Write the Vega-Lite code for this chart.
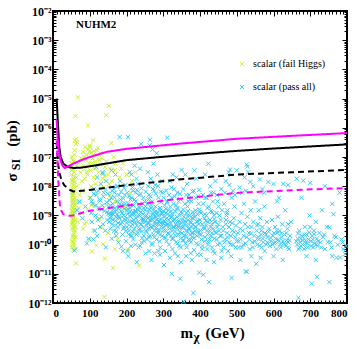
{
"$schema": "https://vega.github.io/schema/vega-lite/v6.json",
"width": 294, "height": 292,
"autosize": "none",
"padding": {"left": 53, "top": 11, "right": 10, "bottom": 46},
"background": "white",
"config": {
 "view": {"stroke": "black", "strokeWidth": 2},
 "font": "Liberation Serif",
 "axis": {"grid": false, "domain": false, "tickColor": "black", "tickWidth": 1, "labelFont": "Liberation Serif", "labelFontWeight": "bold", "labelColor": "black", "labelFontSize": 11, "titleFont": "Liberation Serif", "titleFontWeight": "bold", "titleColor": "black", "titleFontSize": 15},
 "legend": {"labelFont": "Liberation Serif", "labelFontSize": 10, "labelColor": "black"}
},
"title": {"text": "NUHM2", "anchor": "start", "frame": "group", "orient": "top", "offset": -25, "dx": 23, "font": "Liberation Serif", "fontSize": 11, "fontWeight": "bold", "color": "black"},
"datasets": {
 "fail": [
{"m":50,"s":6e-8},{"m":50,"s":2.5e-8},{"m":51,"s":1.2e-8},{"m":51,"s":6e-9},{"m":52,"s":3.5e-9},{"m":52,"s":2e-9},{"m":52,"s":1.1e-9},{"m":53,"s":6e-10},{"m":53,"s":3.5e-10},{"m":53,"s":2e-10},{"m":54,"s":1.2e-10},
{"m":54,"s":8e-8},{"m":54,"s":4e-8},{"m":55,"s":1.8e-8},{"m":55,"s":9e-9},{"m":55,"s":5e-9},{"m":56,"s":2.8e-9},{"m":56,"s":1.6e-9},{"m":56,"s":8e-10},{"m":57,"s":4.5e-10},{"m":57,"s":2.6e-10},{"m":57,"s":1.5e-10},{"m":58,"s":9e-11},
{"m":58,"s":1.2e-7},{"m":58,"s":3e-8},{"m":59,"s":1.4e-8},{"m":59,"s":7e-9},{"m":59,"s":4e-9},{"m":60,"s":2.2e-9},{"m":60,"s":1.3e-9},{"m":60,"s":7e-10},{"m":61,"s":4e-10},{"m":61,"s":3e-10},{"m":62,"s":1.8e-10},{"m":62,"s":7e-11},{"m":63,"s":2.3e-11},
{"m":64,"s":5e-8},{"m":64,"s":2e-8},{"m":65,"s":1e-8},{"m":66,"s":3e-9},{"m":66,"s":1.5e-9},{"m":67,"s":6e-10},
{"m":52,"s":4.5e-8},{"m":53,"s":1.6e-8},{"m":53,"s":8e-9},{"m":54,"s":4.5e-9},{"m":54,"s":2.5e-9},{"m":55,"s":1.4e-9},{"m":55,"s":1e-9},{"m":55,"s":5.5e-10},{"m":56,"s":3.2e-10},{"m":56,"s":1.8e-10},{"m":53,"s":1e-10},{"m":52,"s":8e-11},{"m":55,"s":6.5e-11},
{"m":51,"s":3.5e-8},{"m":52,"s":1.5e-8},{"m":53,"s":5e-9},{"m":54,"s":3e-9},{"m":54,"s":1.8e-9},{"m":55,"s":7.5e-10},{"m":56,"s":4e-10},{"m":57,"s":2.2e-10},{"m":51,"s":1e-9},{"m":52,"s":5e-10},{"m":53,"s":2.5e-9},{"m":55,"s":3.5e-9},{"m":56,"s":1.1e-8},{"m":57,"s":2.2e-8},{"m":52,"s":1.35e-10},{"m":57,"s":1.1e-10},{"m":51,"s":1.4e-9},{"m":56,"s":6e-9},{"m":53,"s":1.2e-9},{"m":54,"s":7e-10},{"m":51,"s":1e-7},{"m":56,"s":7e-8},{"m":59,"s":1.7e-7},
{"m":68,"s":1.1e-5},{"m":152,"s":5.6e-6},{"m":61,"s":2.5e-6},{"m":145,"s":2.7e-6},{"m":95,"s":1.2e-6},{"m":59,"s":3.7e-7},{"m":63,"s":4.2e-7},{"m":66,"s":3.2e-7},{"m":109,"s":3.7e-7},{"m":159,"s":3e-7},{"m":62,"s":2.8e-7},
{"m":82,"s":1.5e-7},{"m":88,"s":2.2e-7},{"m":92,"s":1.2e-7},{"m":96,"s":1.8e-7},{"m":100,"s":2.5e-7},{"m":104,"s":1.4e-7},{"m":108,"s":9e-8},{"m":112,"s":1.6e-7},{"m":118,"s":1.1e-7},{"m":122,"s":2e-7},{"m":126,"s":8e-8},{"m":90,"s":8e-8},{"m":98,"s":6e-8},{"m":85,"s":1e-7},{"m":130,"s":1.3e-7},{"m":115,"s":7e-8},
{"m":70,"s":6e-8},{"m":76,"s":9e-8},{"m":84,"s":5e-8},{"m":92,"s":3e-8},{"m":99,"s":1.5e-7},{"m":105,"s":6e-8},{"m":114,"s":4e-8},{"m":120,"s":1.7e-7},{"m":128,"s":5.5e-8},{"m":134,"s":9e-8},{"m":140,"s":2.2e-8},{"m":146,"s":7e-8},{"m":155,"s":4e-8},{"m":170,"s":6e-8},{"m":186,"s":4e-8},{"m":200,"s":2.5e-8},{"m":215,"s":1.5e-8},{"m":225,"s":3e-8},{"m":86,"s":1.8e-8},{"m":104,"s":1e-8},{"m":120,"s":6e-9},{"m":138,"s":9e-9},{"m":152,"s":1.2e-8},{"m":100,"s":2.2e-7},{"m":110,"s":1.2e-7},
{"m":88,"s":4e-8},{"m":94,"s":2.5e-8},{"m":102,"s":3.5e-8},{"m":110,"s":2e-8},{"m":116,"s":1.2e-8},{"m":124,"s":3e-8},{"m":135,"s":1.8e-8},{"m":142,"s":4.5e-8},{"m":150,"s":2.5e-8},{"m":160,"s":1.5e-8},{"m":168,"s":3.5e-8},{"m":175,"s":1e-8},{"m":182,"s":2e-8},{"m":190,"s":6e-8},{"m":165,"s":1e-7},{"m":75,"s":3e-8},{"m":78,"s":1.5e-8},{"m":80,"s":7e-9},{"m":72,"s":5e-9},
{"m":73,"s":2.8e-9},{"m":82,"s":3.5e-10},{"m":86,"s":5e-10},{"m":91,"s":6e-10},{"m":95,"s":1.5e-9},{"m":100,"s":4e-9},{"m":106,"s":2.2e-9},{"m":113,"s":2.1e-9},{"m":120,"s":9e-10},{"m":127,"s":7.5e-10},{"m":136,"s":1.05e-10},{"m":118,"s":9.5e-11},{"m":106,"s":5.8e-11},{"m":145,"s":2.2e-9},{"m":155,"s":5e-9},{"m":160,"s":1.2e-9},{"m":170,"s":3e-9},{"m":180,"s":8e-10},{"m":195,"s":2e-9},{"m":210,"s":6e-9},{"m":168,"s":7e-11},{"m":163,"s":1.6e-11},{"m":141,"s":3.3e-11},{"m":204,"s":7e-11},{"m":234,"s":1.9e-11},{"m":218,"s":2.6e-10},{"m":140,"s":1.6e-12},{"m":78,"s":1.2e-9},{"m":70,"s":1.8e-9},{"m":132,"s":4e-10},{"m":150,"s":2.5e-10},{"m":175,"s":1.5e-10},{"m":110,"s":3e-10},{"m":98,"s":1.5e-10}
 ],
 "pass": [
{"m":65,"s":1.5e-9},{"m":72,"s":3e-9},{"m":80,"s":8e-10},{"m":88,"s":2e-9},{"m":92,"s":1.1e-10},{"m":59,"s":6.3e-11},{"m":97,"s":1.6e-10},
{"m":102,"s":4e-9},{"m":104,"s":1.2e-9},{"m":106,"s":6e-10},{"m":108,"s":2.5e-9},{"m":110,"s":1.5e-10},{"m":112,"s":8e-9},{"m":114,"s":3e-10},{"m":116,"s":1e-9},{"m":118,"s":5e-9},{"m":120,"s":2e-10},{"m":122,"s":7e-10},{"m":124,"s":1.8e-9},{"m":126,"s":3.5e-9},{"m":128,"s":4e-10},{"m":130,"s":1.2e-8},{"m":132,"s":9e-10},{"m":134,"s":2.2e-9},{"m":136,"s":5e-10},{"m":138,"s":6e-9},{"m":140,"s":1.4e-9},{"m":142,"s":3e-10},{"m":144,"s":8e-11},{"m":146,"s":2.8e-9},{"m":148,"s":7e-10},{"m":150,"s":1.1e-9},{"m":120,"s":2e-8},{"m":135,"s":3e-8},{"m":145,"s":1.5e-8},{"m":118,"s":4.5e-8},{"m":159,"s":3.5e-8},{"m":136,"s":2.7e-8},
{"m":105,"s":3e-9},{"m":111,"s":5.5e-9},{"m":117,"s":2.2e-9},{"m":123,"s":7e-9},{"m":129,"s":3.2e-9},{"m":137,"s":4.5e-9},{"m":143,"s":8e-9},{"m":149,"s":5.5e-9},{"m":154,"s":3.3e-9},{"m":161,"s":7e-9},{"m":167,"s":4.2e-9},{"m":173,"s":9.5e-9},{"m":179,"s":5e-9},{"m":185,"s":6.5e-9},{"m":191,"s":3.8e-9},{"m":194,"s":8.5e-9},{"m":202,"s":6e-9},{"m":207,"s":4.5e-9},{"m":216,"s":9e-9},{"m":222,"s":3.5e-9},{"m":228,"s":7.5e-9},{"m":235,"s":5e-9},{"m":241,"s":8.5e-9},{"m":246,"s":4e-9},{"m":253,"s":6.5e-9},{"m":259,"s":1e-8},{"m":265,"s":4.5e-9},{"m":272,"s":8e-9},{"m":280,"s":5.5e-9},{"m":286,"s":1e-8},{"m":293,"s":6.5e-9},{"m":301,"s":4e-9},{"m":308,"s":7e-9},{"m":316,"s":5e-9},{"m":322,"s":9e-9},{"m":331,"s":4.5e-9},{"m":338,"s":6e-9},{"m":347,"s":3.5e-9},{"m":355,"s":8e-9},{"m":363,"s":5e-9},{"m":372,"s":3.5e-9},{"m":380,"s":6.5e-9},{"m":389,"s":4e-9},{"m":398,"s":7.5e-9},{"m":408,"s":5e-9},{"m":418,"s":4e-9},{"m":428,"s":1e-8},{"m":437,"s":6e-9},{"m":446,"s":5e-9},{"m":458,"s":8e-9},{"m":468,"s":6e-9},{"m":480,"s":1.1e-8},{"m":495,"s":5e-9},{"m":508,"s":9e-9},{"m":525,"s":7e-9},{"m":545,"s":1e-8},{"m":570,"s":8e-9},{"m":600,"s":1.2e-8},{"m":640,"s":1.1e-8},{"m":700,"s":1.3e-8},{"m":740,"s":1e-8},
{"m":133,"s":1.6e-9},{"m":147,"s":1.3e-9},{"m":163,"s":1.1e-9},{"m":178,"s":1.7e-9},{"m":189,"s":1.9e-9},{"m":204,"s":1.7e-9},{"m":217,"s":1.3e-9},{"m":232,"s":1.5e-9},{"m":247,"s":1.8e-9},{"m":262,"s":1.6e-9},{"m":277,"s":1.3e-9},{"m":292,"s":1.5e-9},{"m":307,"s":1.7e-9},{"m":322,"s":1.4e-9},{"m":337,"s":1.6e-9},{"m":352,"s":1.2e-9},{"m":367,"s":1.4e-9},{"m":383,"s":1.1e-9},{"m":398,"s":1.6e-9},{"m":413,"s":1.1e-9},{"m":433,"s":1.3e-9},{"m":453,"s":1e-9},{"m":473,"s":1.2e-9},
{"m":205,"s":4e-11},{"m":228,"s":2.5e-11},{"m":252,"s":5e-11},{"m":268,"s":3e-11},{"m":287,"s":6e-11},{"m":302,"s":2e-11},{"m":318,"s":3.5e-11},{"m":332,"s":5e-11},{"m":348,"s":2.5e-11},{"m":362,"s":4e-11},{"m":378,"s":3e-11},{"m":402,"s":4.5e-11},{"m":418,"s":3e-11},{"m":438,"s":2.5e-11},{"m":458,"s":3.5e-11},{"m":485,"s":4e-11},{"m":510,"s":3e-11},{"m":540,"s":4e-11},{"m":565,"s":3.5e-11},{"m":600,"s":4e-11},{"m":625,"s":3e-11},{"m":690,"s":4e-11},{"m":715,"s":3e-11},{"m":760,"s":4e-11},
{"m":152,"s":2e-9},{"m":153,"s":6e-10},{"m":155,"s":1.2e-9},{"m":156,"s":3.5e-10},{"m":158,"s":4e-9},{"m":159,"s":9e-10},{"m":160,"s":1.6e-10},{"m":162,"s":2.5e-9},{"m":163,"s":7e-10},{"m":165,"s":1.3e-9},{"m":166,"s":4.5e-10},{"m":168,"s":6e-9},{"m":169,"s":1.8e-9},{"m":171,"s":9e-10},{"m":172,"s":2.8e-10},{"m":174,"s":3e-9},{"m":175,"s":1.1e-9},{"m":177,"s":5.5e-10},{"m":178,"s":1.2e-10},{"m":180,"s":2e-9},{"m":181,"s":8e-10},{"m":183,"s":1.5e-8},{"m":184,"s":3.5e-9},{"m":186,"s":1.4e-9},{"m":187,"s":6e-10},{"m":189,"s":2.2e-10},{"m":190,"s":2.5e-9},{"m":192,"s":1e-9},{"m":193,"s":4e-10},{"m":195,"s":5e-9},{"m":196,"s":1.7e-9},{"m":198,"s":7e-10},{"m":199,"s":3e-10},{"m":170,"s":2.5e-8},{"m":181,"s":4.8e-7},{"m":190,"s":6e-11},{"m":176,"s":1e-8},{"m":197,"s":1.1e-8},{"m":165,"s":8e-9},
{"m":155,"s":8e-10},{"m":157,"s":2.2e-9},{"m":161,"s":5e-10},{"m":164,"s":1.6e-9},{"m":167,"s":3e-10},{"m":170,"s":6.5e-10},{"m":173,"s":1.5e-9},{"m":176,"s":4e-10},{"m":179,"s":9e-10},{"m":182,"s":2.5e-9},{"m":185,"s":5e-10},{"m":188,"s":1.2e-9},{"m":191,"s":3.5e-10},{"m":194,"s":7.5e-10},{"m":197,"s":2.5e-9},{"m":158,"s":1.1e-9},{"m":172,"s":2e-10},{"m":186,"s":8.5e-11},{"m":199,"s":1.3e-10},
{"m":200,"s":1.5e-9},{"m":201,"s":4e-10},{"m":202,"s":8e-10},{"m":204,"s":4.8e-7},{"m":205,"s":2.5e-9},{"m":206,"s":1.2e-9},{"m":207,"s":3e-10},{"m":208,"s":6e-10},{"m":210,"s":1.8e-9},{"m":211,"s":9e-10},{"m":212,"s":2e-10},{"m":214,"s":4e-9},{"m":215,"s":1.1e-9},{"m":216,"s":5e-10},{"m":218,"s":7e-9},{"m":219,"s":2.2e-9},{"m":220,"s":7e-10},{"m":221,"s":3.5e-10},{"m":223,"s":1.4e-9},{"m":224,"s":1e-10},{"m":225,"s":3e-9},{"m":226,"s":8e-10},{"m":228,"s":4.5e-10},{"m":229,"s":1.6e-9},{"m":230,"s":2.5e-10},{"m":231,"s":1.2e-8},{"m":232,"s":6e-10},{"m":234,"s":2e-9},{"m":235,"s":1e-9},{"m":236,"s":3.5e-10},{"m":238,"s":5.5e-9},{"m":239,"s":1.3e-9},{"m":240,"s":2.8e-7},{"m":240,"s":5e-10},{"m":242,"s":8e-10},{"m":243,"s":1.7e-10},{"m":244,"s":2.5e-9},{"m":245,"s":1.1e-9},{"m":246,"s":4e-10},{"m":248,"s":7e-10},{"m":249,"s":3e-9},{"m":250,"s":1.5e-9},{"m":203,"s":6e-11},{"m":213,"s":2.5e-8},{"m":222,"s":5e-8},{"m":227,"s":1.8e-8},{"m":233,"s":8e-11},{"m":237,"s":4e-8},{"m":241,"s":1.2e-10},{"m":247,"s":2e-10},{"m":209,"s":3e-8},{"m":217,"s":2.8e-10},{"m":226,"s":1.4e-9},{"m":244,"s":6.5e-10},{"m":212,"s":9e-11},
{"m":200,"s":5.5e-10},{"m":203,"s":1.1e-9},{"m":206,"s":2.2e-10},{"m":209,"s":1.3e-9},{"m":212,"s":4.2e-10},{"m":215,"s":6.5e-10},{"m":218,"s":1.5e-10},{"m":221,"s":1.1e-9},{"m":224,"s":5.5e-10},{"m":227,"s":2.2e-10},{"m":230,"s":9.5e-10},{"m":233,"s":3.2e-10},{"m":236,"s":1.8e-9},{"m":239,"s":4.8e-10},{"m":242,"s":2.8e-10},{"m":245,"s":7.5e-10},{"m":248,"s":1.3e-10},{"m":211,"s":3.5e-9},{"m":225,"s":6e-9},{"m":237,"s":9e-11},{"m":214,"s":2e-10},
{"m":251,"s":6e-10},{"m":252,"s":2e-9},{"m":253,"s":3e-10},{"m":254,"s":1e-9},{"m":255,"s":4.5e-10},{"m":256,"s":1.5e-10},{"m":257,"s":2.5e-9},{"m":258,"s":8e-10},{"m":259,"s":3.5e-10},{"m":260,"s":1.3e-9},{"m":261,"s":5e-9},{"m":262,"s":5.5e-10},{"m":263,"s":2.5e-7},{"m":263,"s":2e-10},{"m":264,"s":3.9e-7},{"m":265,"s":9e-10},{"m":266,"s":1.8e-9},{"m":267,"s":4e-10},{"m":268,"s":7e-10},{"m":269,"s":1.1e-10},{"m":270,"s":3e-9},{"m":271,"s":1.8e-7},{"m":271,"s":1.2e-9},{"m":272,"s":4.5e-10},{"m":273,"s":5.9e-8},{"m":273,"s":2.2e-10},{"m":274,"s":8e-10},{"m":275,"s":1.6e-9},{"m":276,"s":3e-10},{"m":277,"s":6e-10},{"m":278,"s":1.1e-8},{"m":279,"s":2e-9},{"m":280,"s":9e-10},{"m":281,"s":3.8e-10},{"m":282,"s":1.35e-7},{"m":282,"s":1.5e-10},{"m":283,"s":7e-10},{"m":284,"s":1.3e-9},{"m":285,"s":5e-10},{"m":286,"s":2.5e-10},{"m":287,"s":4e-9},{"m":288,"s":1e-9},{"m":289,"s":6e-10},{"m":290,"s":3.2e-10},{"m":291,"s":1.8e-9},{"m":292,"s":8e-11},{"m":293,"s":7.5e-10},{"m":294,"s":2.8e-9},{"m":295,"s":4.2e-10},{"m":296,"s":1.1e-9},{"m":297,"s":2e-10},{"m":298,"s":6e-9},{"m":299,"s":5.5e-10},{"m":300,"s":1.4e-9},{"m":258,"s":3e-8},{"m":266,"s":1.8e-8},{"m":276,"s":5e-11},{"m":284,"s":2.5e-8},{"m":291,"s":4.5e-11},{"m":296,"s":1.5e-8},{"m":262,"s":6e-11},
{"m":252,"s":9e-10},{"m":255,"s":2.7e-10},{"m":258,"s":5.5e-10},{"m":261,"s":1.8e-10},{"m":264,"s":7e-10},{"m":267,"s":2.2e-9},{"m":270,"s":3.8e-10},{"m":273,"s":1e-9},{"m":276,"s":1.8e-10},{"m":279,"s":5e-10},{"m":282,"s":1.1e-9},{"m":285,"s":3e-10},{"m":288,"s":6.5e-10},{"m":291,"s":2.2e-10},{"m":294,"s":5.5e-10},{"m":297,"s":1.2e-9},{"m":260,"s":3.5e-9},{"m":275,"s":7e-9},{"m":290,"s":1.3e-10},{"m":270,"s":1e-10},
{"m":301,"s":4e-10},{"m":302,"s":9e-10},{"m":303,"s":1.8e-10},{"m":304,"s":2.2e-9},{"m":305,"s":6e-10},{"m":306,"s":3e-10},{"m":307,"s":1.2e-9},{"m":308,"s":4.5e-10},{"m":309,"s":1.3e-10},{"m":310,"s":8e-10},{"m":311,"s":4.6e-7},{"m":311,"s":3e-9},{"m":312,"s":5e-10},{"m":313,"s":2.5e-10},{"m":314,"s":1.5e-9},{"m":315,"s":7e-10},{"m":316,"s":1e-10},{"m":317,"s":3.5e-10},{"m":318,"s":1e-9},{"m":319,"s":2e-9},{"m":320,"s":5.5e-10},{"m":321,"s":2e-10},{"m":322,"s":8.5e-10},{"m":323,"s":1e-11},{"m":323,"s":4e-9},{"m":324,"s":3e-10},{"m":325,"s":1.1e-9},{"m":326,"s":6.5e-10},{"m":327,"s":1.6e-10},{"m":328,"s":2.5e-9},{"m":329,"s":4e-10},{"m":330,"s":8e-9},{"m":331,"s":7.5e-10},{"m":332,"s":2.8e-10},{"m":333,"s":1.4e-9},{"m":334,"s":5e-10},{"m":335,"s":1.2e-10},{"m":336,"s":2e-8},{"m":337,"s":9e-10},{"m":338,"s":3.6e-10},{"m":339,"s":1.8e-9},{"m":340,"s":6e-10},{"m":341,"s":2.2e-10},{"m":342,"s":3e-9},{"m":343,"s":4.5e-10},{"m":344,"s":9e-11},{"m":345,"s":1e-9},{"m":346,"s":6.8e-12},{"m":346,"s":3.8e-10},{"m":347,"s":1.6e-10},{"m":348,"s":1.3e-9},{"m":349,"s":5.5e-10},{"m":350,"s":3.6e-8},{"m":305,"s":6e-11},{"m":318,"s":1.5e-8},{"m":340,"s":4e-11},{"m":326,"s":2.5e-8},
{"m":300,"s":3e-10},{"m":303,"s":6.5e-10},{"m":306,"s":1.7e-10},{"m":309,"s":5e-10},{"m":312,"s":1.1e-9},{"m":315,"s":2.3e-10},{"m":318,"s":4.5e-10},{"m":321,"s":9e-10},{"m":324,"s":1.6e-10},{"m":327,"s":4e-10},{"m":330,"s":7e-10},{"m":333,"s":2.1e-10},{"m":336,"s":4.5e-10},{"m":339,"s":1.1e-10},{"m":342,"s":6.5e-10},{"m":345,"s":2.7e-10},{"m":348,"s":8e-11},{"m":310,"s":2.8e-9},{"m":325,"s":7e-11},{"m":335,"s":2.2e-9},{"m":345,"s":5.5e-9},
{"m":351,"s":2.5e-10},{"m":352,"s":7e-10},{"m":353,"s":1.4e-10},{"m":354,"s":1.6e-9},{"m":355,"s":1.1e-12},{"m":355,"s":4e-10},{"m":356,"s":9e-10},{"m":357,"s":2e-10},{"m":358,"s":5e-10},{"m":359,"s":2.5e-9},{"m":360,"s":1.1e-10},{"m":361,"s":6e-10},{"m":362,"s":3e-10},{"m":363,"s":1.2e-9},{"m":364,"s":8e-11},{"m":365,"s":4.5e-10},{"m":366,"s":2e-9},{"m":367,"s":2.8e-10},{"m":368,"s":7e-10},{"m":369,"s":1.5e-10},{"m":370,"s":5e-9},{"m":371,"s":3.5e-10},{"m":372,"s":1e-9},{"m":373,"s":2.2e-10},{"m":374,"s":6e-10},{"m":375,"s":1.2e-10},{"m":376,"s":3e-9},{"m":377,"s":4e-10},{"m":378,"s":8e-10},{"m":379,"s":1.8e-10},{"m":380,"s":1.3e-9},{"m":381,"s":5e-10},{"m":382,"s":2.2e-12},{"m":382,"s":2.5e-10},{"m":383,"s":7e-9},{"m":384,"s":6.5e-11},{"m":385,"s":3.5e-8},{"m":386,"s":3e-10},{"m":387,"s":9e-10},{"m":388,"s":1.5e-9},{"m":389,"s":4e-10},{"m":390,"s":1.8e-8},{"m":391,"s":2e-10},{"m":392,"s":6e-10},{"m":393,"s":1.1e-9},{"m":394,"s":3e-10},{"m":395,"s":1e-10},{"m":396,"s":2.5e-9},{"m":397,"s":5e-10},{"m":398,"s":1.1e-11},{"m":399,"s":2.2e-10},{"m":400,"s":7e-10},{"m":360,"s":2.5e-8},{"m":375,"s":5e-11},{"m":393,"s":4.5e-11},{"m":365,"s":1.2e-8},
{"m":352,"s":3.8e-10},{"m":356,"s":1.4e-10},{"m":359,"s":6.5e-10},{"m":362,"s":2e-10},{"m":366,"s":9.5e-10},{"m":369,"s":3.5e-10},{"m":372,"s":1.4e-10},{"m":375,"s":5.5e-10},{"m":378,"s":2.5e-10},{"m":381,"s":8e-10},{"m":384,"s":1.7e-10},{"m":387,"s":4.2e-10},{"m":390,"s":1.1e-10},{"m":393,"s":6.5e-10},{"m":396,"s":2.7e-10},{"m":399,"s":1.3e-9},{"m":368,"s":3e-9},{"m":395,"s":4.5e-9},
{"m":401,"s":3e-10},{"m":403,"s":1.2e-9},{"m":404,"s":1.5e-10},{"m":406,"s":5e-10},{"m":407,"s":9e-11},{"m":409,"s":9.3e-12},{"m":409,"s":2.5e-9},{"m":411,"s":3.5e-10},{"m":412,"s":8e-10},{"m":414,"s":1.8e-10},{"m":415,"s":4e-9},{"m":417,"s":4.5e-10},{"m":418,"s":1e-9},{"m":420,"s":2.2e-10},{"m":421,"s":6e-10},{"m":423,"s":5.9e-8},{"m":423,"s":1.2e-10},{"m":424,"s":2e-9},{"m":425,"s":5.2e-12},{"m":426,"s":3e-10},{"m":427,"s":7e-10},{"m":429,"s":1.4e-9},{"m":430,"s":2e-10},{"m":432,"s":5e-10},{"m":433,"s":8e-11},{"m":435,"s":3e-9},{"m":436,"s":3.5e-10},{"m":438,"s":1e-9},{"m":439,"s":1.6e-10},{"m":441,"s":6e-10},{"m":442,"s":1.5e-8},{"m":444,"s":2.5e-10},{"m":445,"s":1.2e-9},{"m":447,"s":4e-10},{"m":448,"s":1e-10},{"m":450,"s":2e-9},{"m":414,"s":2.5e-8},{"m":430,"s":6e-9},{"m":440,"s":5e-11},{"m":420,"s":7e-11},
{"m":403,"s":2.2e-10},{"m":406,"s":7e-11},{"m":410,"s":4e-10},{"m":413,"s":1.3e-10},{"m":416,"s":6.5e-10},{"m":419,"s":3e-10},{"m":422,"s":1e-10},{"m":426,"s":1.5e-10},{"m":429,"s":4e-10},{"m":432,"s":2.5e-10},{"m":436,"s":6e-11},{"m":439,"s":7.5e-10},{"m":442,"s":2.7e-10},{"m":446,"s":1.5e-10},{"m":450,"s":5e-10},{"m":420,"s":1.8e-9},{"m":448,"s":3e-9},
{"m":452,"s":3e-10},{"m":454,"s":1.1e-10},{"m":456,"s":7e-10},{"m":458,"s":2e-10},{"m":460,"s":1.5e-9},{"m":462,"s":4e-10},{"m":464,"s":8e-11},{"m":466,"s":2.5e-9},{"m":468,"s":1.5e-10},{"m":470,"s":5e-10},{"m":472,"s":1e-9},{"m":474,"s":2.5e-10},{"m":476,"s":6e-11},{"m":478,"s":3e-8},{"m":480,"s":1.2e-10},{"m":482,"s":3.7e-8},{"m":482,"s":6e-10},{"m":484,"s":2e-10},{"m":486,"s":7.2e-12},{"m":486,"s":4e-9},{"m":488,"s":3e-10},{"m":490,"s":1e-10},{"m":492,"s":8e-10},{"m":494,"s":2e-9},{"m":496,"s":1.8e-10},{"m":498,"s":4.5e-10},{"m":500,"s":3.5e-8},{"m":500,"s":1.3e-10},{"m":470,"s":1.5e-8},{"m":490,"s":7e-9},
{"m":455,"s":2e-10},{"m":459,"s":6e-11},{"m":463,"s":3e-10},{"m":467,"s":1.2e-10},{"m":471,"s":7e-10},{"m":475,"s":1.8e-10},{"m":479,"s":4e-10},{"m":483,"s":1e-10},{"m":488,"s":5.5e-10},{"m":493,"s":2.7e-10},{"m":497,"s":8e-11},{"m":475,"s":1.5e-9},
{"m":503,"s":2.5e-10},{"m":506,"s":8e-11},{"m":508,"s":6e-10},{"m":511,"s":1.5e-10},{"m":513,"s":1.2e-9},{"m":516,"s":3e-10},{"m":518,"s":1e-10},{"m":521,"s":2e-8},{"m":523,"s":5e-10},{"m":525,"s":1.2e-11},{"m":527,"s":1.17e-11},{"m":527,"s":5.5e-8},{"m":527,"s":1.8e-10},{"m":529,"s":4.7e-8},{"m":529,"s":9e-10},{"m":531,"s":3e-8},{"m":533,"s":2.5e-10},{"m":535,"s":7e-11},{"m":538,"s":1.5e-9},{"m":540,"s":4e-10},{"m":542,"s":1.2e-10},{"m":545,"s":6e-10},{"m":548,"s":2e-10},{"m":550,"s":3e-9},{"m":515,"s":6e-9},{"m":537,"s":1.4e-8},
{"m":505,"s":1.3e-10},{"m":510,"s":3.5e-10},{"m":514,"s":8e-11},{"m":519,"s":2e-10},{"m":524,"s":1.1e-10},{"m":530,"s":4e-10},{"m":534,"s":1.5e-10},{"m":539,"s":2.4e-10},{"m":544,"s":8e-11},{"m":549,"s":1.3e-10},{"m":520,"s":2.5e-9},
{"m":553,"s":2.2e-11},{"m":554,"s":3e-10},{"m":556,"s":1e-10},{"m":558,"s":5e-10},{"m":560,"s":1.5e-10},{"m":563,"s":1.7e-8},{"m":564,"s":8e-10},{"m":566,"s":2.2e-10},{"m":568,"s":8e-11},{"m":570,"s":4e-10},{"m":572,"s":1.2e-10},{"m":575,"s":2e-9},{"m":577,"s":2.5e-10},{"m":580,"s":1e-10},{"m":582,"s":6e-10},{"m":584,"s":1.8e-10},{"m":586,"s":1.4e-8},{"m":588,"s":3.5e-10},{"m":590,"s":9e-11},{"m":593,"s":1.3e-10},{"m":596,"s":7e-10},{"m":598,"s":2e-10},{"m":575,"s":6e-9},
{"m":555,"s":4.5e-10},{"m":559,"s":1.8e-10},{"m":562,"s":9e-11},{"m":567,"s":3e-10},{"m":571,"s":1.6e-10},{"m":576,"s":6e-11},{"m":579,"s":2.2e-10},{"m":583,"s":1.2e-10},{"m":587,"s":2.8e-10},{"m":592,"s":1.7e-10},{"m":597,"s":1e-10},{"m":560,"s":1.5e-9},
{"m":602,"s":1.1e-10},{"m":604,"s":4e-10},{"m":606,"s":1.6e-10},{"m":608,"s":7e-11},{"m":610,"s":2.5e-10},{"m":612,"s":9e-10},{"m":615,"s":1.3e-10},{"m":617,"s":3e-10},{"m":620,"s":8e-11},{"m":622,"s":1.8e-10},{"m":624,"s":5e-10},{"m":627,"s":1.2e-8},{"m":628,"s":1.1e-10},{"m":630,"s":2.2e-10},{"m":632,"s":1.5e-9},{"m":634,"s":9e-11},{"m":636,"s":1.4e-10},{"m":638,"s":3.5e-10},{"m":640,"s":1.2e-10},{"m":642,"s":7e-11},{"m":645,"s":2e-10},{"m":648,"s":6e-10},{"m":615,"s":4e-9},
{"m":601,"s":2.5e-10},{"m":605,"s":1.2e-10},{"m":609,"s":3e-10},{"m":613,"s":1.5e-10},{"m":618,"s":1e-10},{"m":621,"s":2.4e-10},{"m":626,"s":1.3e-10},{"m":631,"s":1e-10},{"m":635,"s":2.5e-10},{"m":639,"s":8e-11},{"m":643,"s":1.4e-10},{"m":610,"s":3e-9},{"m":640,"s":5e-10},
{"m":663,"s":1.8e-8},{"m":664,"s":1e-10},{"m":666,"s":1.6e-10},{"m":668,"s":1.5e-12},{"m":668,"s":7e-11},{"m":670,"s":3e-10},{"m":672,"s":1.2e-10},{"m":675,"s":9e-11},{"m":677,"s":2e-10},{"m":680,"s":1.4e-10},{"m":681,"s":1.55e-8},{"m":683,"s":7e-11},{"m":685,"s":4e-10},{"m":688,"s":1.1e-10},{"m":690,"s":2.2e-10},{"m":693,"s":8e-11},{"m":695,"s":1.5e-10},{"m":698,"s":1e-9},{"m":676,"s":4e-9},
{"m":662,"s":1.3e-10},{"m":667,"s":2.4e-10},{"m":671,"s":8e-11},{"m":674,"s":1.6e-10},{"m":679,"s":1e-10},{"m":684,"s":2.2e-10},{"m":687,"s":1.4e-10},{"m":692,"s":1.1e-10},{"m":697,"s":2.6e-10},{"m":700,"s":4e-10},
{"m":702,"s":1.3e-10},{"m":704,"s":4.6e-12},{"m":705,"s":2e-10},{"m":708,"s":8e-11},{"m":710,"s":3e-10},{"m":712,"s":1.1e-10},{"m":715,"s":6e-10},{"m":718,"s":7.9e-12},{"m":718,"s":1.6e-10},{"m":720,"s":9e-11},{"m":725,"s":2.5e-10},{"m":728,"s":1.2e-10},{"m":732,"s":1.5e-9},{"m":735,"s":1.8e-10},{"m":740,"s":7e-11},{"m":745,"s":4e-10},
{"m":703,"s":9e-11},{"m":707,"s":1.5e-10},{"m":711,"s":2.3e-10},{"m":716,"s":1e-10},{"m":722,"s":1.3e-10},{"m":730,"s":8e-11},{"m":738,"s":2.2e-10},{"m":748,"s":1.2e-10},
{"m":752,"s":5.2e-12},{"m":752,"s":3.9e-10},{"m":755,"s":1.2e-10},{"m":760,"s":2.5e-9},{"m":763,"s":1.1e-9},{"m":766,"s":2e-10},{"m":772,"s":3.6e-11},{"m":775,"s":1e-10},{"m":781,"s":3.6e-11},{"m":785,"s":1.5e-10},{"m":790,"s":7e-11},{"m":795,"s":4.7e-11},{"m":780,"s":6e-9},{"m":758,"s":8e-11},{"m":770,"s":1.8e-10},{"m":788,"s":1.2e-10},{"m":798,"s":9e-11}
 ],
 "lines": [
{"k":"A","m":10,"s":1e-5},{"k":"A","m":12,"s":3e-6},{"k":"A","m":14.5,"s":8e-7},{"k":"A","m":17,"s":2.2e-7},{"k":"A","m":21,"s":1e-7},{"k":"A","m":28,"s":5.9e-8},{"k":"A","m":40,"s":4.6e-8},{"k":"A","m":55,"s":4.2e-8},{"k":"A","m":75,"s":4.3e-8},{"k":"A","m":100,"s":4.8e-8},{"k":"A","m":150,"s":6.1e-8},{"k":"A","m":200,"s":7.8e-8},{"k":"A","m":300,"s":1.02e-7},{"k":"A","m":400,"s":1.3e-7},{"k":"A","m":500,"s":1.62e-7},{"k":"A","m":600,"s":1.95e-7},{"k":"A","m":700,"s":2.3e-7},{"k":"A","m":800,"s":2.7e-7},
{"k":"B","m":10,"s":1.9e-6},{"k":"B","m":12,"s":6e-7},{"k":"B","m":15,"s":2e-7},{"k":"B","m":20,"s":8e-8},{"k":"B","m":26,"s":5e-8},{"k":"B","m":32,"s":4.2e-8},{"k":"B","m":40,"s":4.7e-8},{"k":"B","m":55,"s":5.9e-8},{"k":"B","m":75,"s":7.6e-8},{"k":"B","m":100,"s":1e-7},{"k":"B","m":146,"s":1.5e-7},{"k":"B","m":200,"s":1.9e-7},{"k":"B","m":336,"s":2.8e-7},{"k":"B","m":500,"s":4.2e-7},{"k":"B","m":650,"s":5.3e-7},{"k":"B","m":800,"s":6.6e-7},
{"k":"C","m":10,"s":3e-7},{"k":"C","m":12,"s":1.2e-7},{"k":"C","m":14.5,"s":5e-8},{"k":"C","m":18,"s":2.8e-8},{"k":"C","m":22,"s":1.8e-8},{"k":"C","m":30,"s":1.1e-8},{"k":"C","m":42,"s":8e-9},{"k":"C","m":55,"s":6.6e-9},{"k":"C","m":100,"s":7.4e-9},{"k":"C","m":191,"s":1.05e-8},{"k":"C","m":336,"s":1.66e-8},{"k":"C","m":500,"s":2.5e-8},{"k":"C","m":650,"s":3e-8},{"k":"C","m":800,"s":3.6e-8},
{"k":"D","m":10,"s":3.7e-7},{"k":"D","m":12,"s":1e-7},{"k":"D","m":14.5,"s":1.5e-8},{"k":"D","m":17,"s":5e-9},{"k":"D","m":19,"s":2e-9},{"k":"D","m":23,"s":1.4e-9},{"k":"D","m":28,"s":1.1e-9},{"k":"D","m":42,"s":9.8e-10},{"k":"D","m":55,"s":1e-9},{"k":"D","m":100,"s":1.45e-9},{"k":"D","m":191,"s":2.1e-9},{"k":"D","m":336,"s":3.6e-9},{"k":"D","m":500,"s":5.9e-9},{"k":"D","m":650,"s":7.3e-9},{"k":"D","m":800,"s":8.7e-9}
 ]
},
"layer": [
 {
  "data": {"name": "fail"},
  "mark": {"type": "point", "shape": "M-1,-1L1,1M1,-1L-1,1", "filled": false, "strokeWidth": 1, "size": 18, "opacity": 1},
  "encoding": {
   "x": {"field": "m", "type": "quantitative", "scale": {"domain": [0, 800], "nice": false, "zero": false},
     "axis": {"orient": "bottom", "values": [0,100,200,300,400,500,600,700,800], "tickSize": -5, "labelPadding": 9, "title": "m", "titleAlign": "left", "titleAnchor": null, "titleX": 127, "titleY": 34, "titleBaseline": "alphabetic"}},
   "y": {"field": "s", "type": "quantitative", "scale": {"type": "log", "domain": [1e-12, 1e-2], "nice": false},
     "axis": {"orient": "left", "values": [1e-12,1e-11,1e-10,1e-9,1e-8,1e-7,1e-6,1e-5,1e-4,1e-3,1e-2], "tickSize": -5, "labelPadding": 7, "labelFontSize": 12,
       "labelExpr": "'10⁻' + ['⁰','¹','²','³','⁴','⁵','⁶','⁷','⁸','⁹','¹⁰','¹¹','¹²'][round(-log(datum.value)/LN10)]",
       "title": "σ", "titleAngle": 270, "titleAlign": "center", "titleAnchor": null, "titleX": -37, "titleY": 166, "titleBaseline": "alphabetic"}},
   "color": {"datum": "scalar (fail Higgs)", "type": "nominal",
     "scale": {"domain": ["scalar (fail Higgs)", "scalar (pass all)"], "range": ["#c8f030", "#38c8f8"]},
     "legend": {"orient": "none", "legendX": 184, "legendY": 48, "title": null, "symbolType": "M-1,-1L1,1M1,-1L-1,1", "symbolSize": 18, "symbolStrokeWidth": 1, "symbolFillColor": "transparent", "rowPadding": 13, "labelOffset": 6}}
  }
 },
 {
  "data": {"name": "pass"},
  "mark": {"type": "point", "shape": "M-1,-1L1,1M1,-1L-1,1", "filled": false, "strokeWidth": 1, "size": 18, "opacity": 1},
  "encoding": {
   "x": {"field": "m", "type": "quantitative", "scale": {"domain": [0, 800], "nice": false, "zero": false},
     "axis": {"orient": "bottom", "values": [0,10,20,30,40,50,60,70,80,90,100,110,120,130,140,150,160,170,180,190,200,210,220,230,240,250,260,270,280,290,300,310,320,330,340,350,360,370,380,390,400,410,420,430,440,450,460,470,480,490,500,510,520,530,540,550,560,570,580,590,600,610,620,630,640,650,660,670,680,690,700,710,720,730,740,750,760,770,780,790,800], "tickSize": -3, "labels": false, "title": "χ", "titleFontSize": 13, "titleAlign": "left", "titleAnchor": null, "titleX": 140, "titleY": 37, "titleBaseline": "alphabetic"}},
   "y": {"field": "s", "type": "quantitative", "scale": {"type": "log", "domain": [1e-12, 1e-2], "nice": false},
     "axis": {"orient": "left", "values": [2e-12,3e-12,4e-12,5e-12,6e-12,7e-12,8e-12,9e-12,2e-11,3e-11,4e-11,5e-11,6e-11,7e-11,8e-11,9e-11,2e-10,3e-10,4e-10,5e-10,6e-10,7e-10,8e-10,9e-10,2e-9,3e-9,4e-9,5e-9,6e-9,7e-9,8e-9,9e-9,2e-8,3e-8,4e-8,5e-8,6e-8,7e-8,8e-8,9e-8,2e-7,3e-7,4e-7,5e-7,6e-7,7e-7,8e-7,9e-7,2e-6,3e-6,4e-6,5e-6,6e-6,7e-6,8e-6,9e-6,2e-5,3e-5,4e-5,5e-5,6e-5,7e-5,8e-5,9e-5,2e-4,3e-4,4e-4,5e-4,6e-4,7e-4,8e-4,9e-4,2e-3,3e-3,4e-3,5e-3,6e-3,7e-3,8e-3,9e-3], "tickSize": -3, "labels": false,
       "title": "SI", "titleFontSize": 12, "titleAngle": 270, "titleAlign": "center", "titleAnchor": null, "titleX": -34, "titleY": 153, "titleBaseline": "alphabetic"}},
   "color": {"datum": "scalar (pass all)", "type": "nominal",
     "scale": {"domain": ["scalar (fail Higgs)", "scalar (pass all)"], "range": ["#c8f030", "#38c8f8"]}}
  }
 },
 {
  "data": {"name": "lines"},
  "transform": [{"filter": "datum.k == 'C' || datum.k == 'D'"}],
  "mark": {"type": "line", "strokeWidth": 2},
  "encoding": {
   "x": {"field": "m", "type": "quantitative", "scale": {"domain": [0, 800], "nice": false, "zero": false},
     "axis": {"orient": "top", "values": [0,100,200,300,400,500,600,700,800], "tickSize": -5, "labels": false, "title": "(GeV)", "titleAlign": "left", "titleAnchor": null, "titleX": 152, "titleY": 326, "titleBaseline": "alphabetic", "titleAngle": 0}},
   "y": {"field": "s", "type": "quantitative", "scale": {"type": "log", "domain": [1e-12, 1e-2], "nice": false},
     "axis": {"orient": "right", "values": [1e-12,1e-11,1e-10,1e-9,1e-8,1e-7,1e-6,1e-5,1e-4,1e-3,1e-2], "tickSize": -5, "labels": false,
       "title": "(pb)", "titleAngle": 270, "titleAlign": "center", "titleAnchor": null, "titleX": -331, "titleY": 122, "titleBaseline": "alphabetic"}},
   "stroke": {"field": "k", "type": "nominal", "scale": {"domain": ["A","B","C","D"], "range": ["black","#ff00ff","black","#ff00ff"]}, "legend": null},
   "strokeDash": {"field": "k", "type": "nominal", "scale": {"domain": ["A","B","C","D"], "range": [[1,0],[1,0],[6,4],[6,4]]}, "legend": null}
  }
 },
 {
  "data": {"name": "lines"},
  "transform": [{"filter": "datum.k == 'A' || datum.k == 'B'"}],
  "mark": {"type": "line", "strokeWidth": 2},
  "encoding": {
   "x": {"field": "m", "type": "quantitative", "scale": {"domain": [0, 800], "nice": false, "zero": false},
     "axis": {"orient": "top", "values": [0,10,20,30,40,50,60,70,80,90,100,110,120,130,140,150,160,170,180,190,200,210,220,230,240,250,260,270,280,290,300,310,320,330,340,350,360,370,380,390,400,410,420,430,440,450,460,470,480,490,500,510,520,530,540,550,560,570,580,590,600,610,620,630,640,650,660,670,680,690,700,710,720,730,740,750,760,770,780,790,800], "tickSize": -3, "labels": false, "title": null}},
   "y": {"field": "s", "type": "quantitative", "scale": {"type": "log", "domain": [1e-12, 1e-2], "nice": false},
     "axis": {"orient": "right", "values": [2e-12,3e-12,4e-12,5e-12,6e-12,7e-12,8e-12,9e-12,2e-11,3e-11,4e-11,5e-11,6e-11,7e-11,8e-11,9e-11,2e-10,3e-10,4e-10,5e-10,6e-10,7e-10,8e-10,9e-10,2e-9,3e-9,4e-9,5e-9,6e-9,7e-9,8e-9,9e-9,2e-8,3e-8,4e-8,5e-8,6e-8,7e-8,8e-8,9e-8,2e-7,3e-7,4e-7,5e-7,6e-7,7e-7,8e-7,9e-7,2e-6,3e-6,4e-6,5e-6,6e-6,7e-6,8e-6,9e-6,2e-5,3e-5,4e-5,5e-5,6e-5,7e-5,8e-5,9e-5,2e-4,3e-4,4e-4,5e-4,6e-4,7e-4,8e-4,9e-4,2e-3,3e-3,4e-3,5e-3,6e-3,7e-3,8e-3,9e-3], "tickSize": -3, "labels": false, "title": null}},
   "stroke": {"field": "k", "type": "nominal", "scale": {"domain": ["A","B","C","D"], "range": ["black","#ff00ff","black","#ff00ff"]}, "legend": null},
   "strokeDash": {"field": "k", "type": "nominal", "scale": {"domain": ["A","B","C","D"], "range": [[1,0],[1,0],[6,4],[6,4]]}, "legend": null}
  }
 }
],
"resolve": {"axis": {"x": "independent", "y": "independent"}}
}
